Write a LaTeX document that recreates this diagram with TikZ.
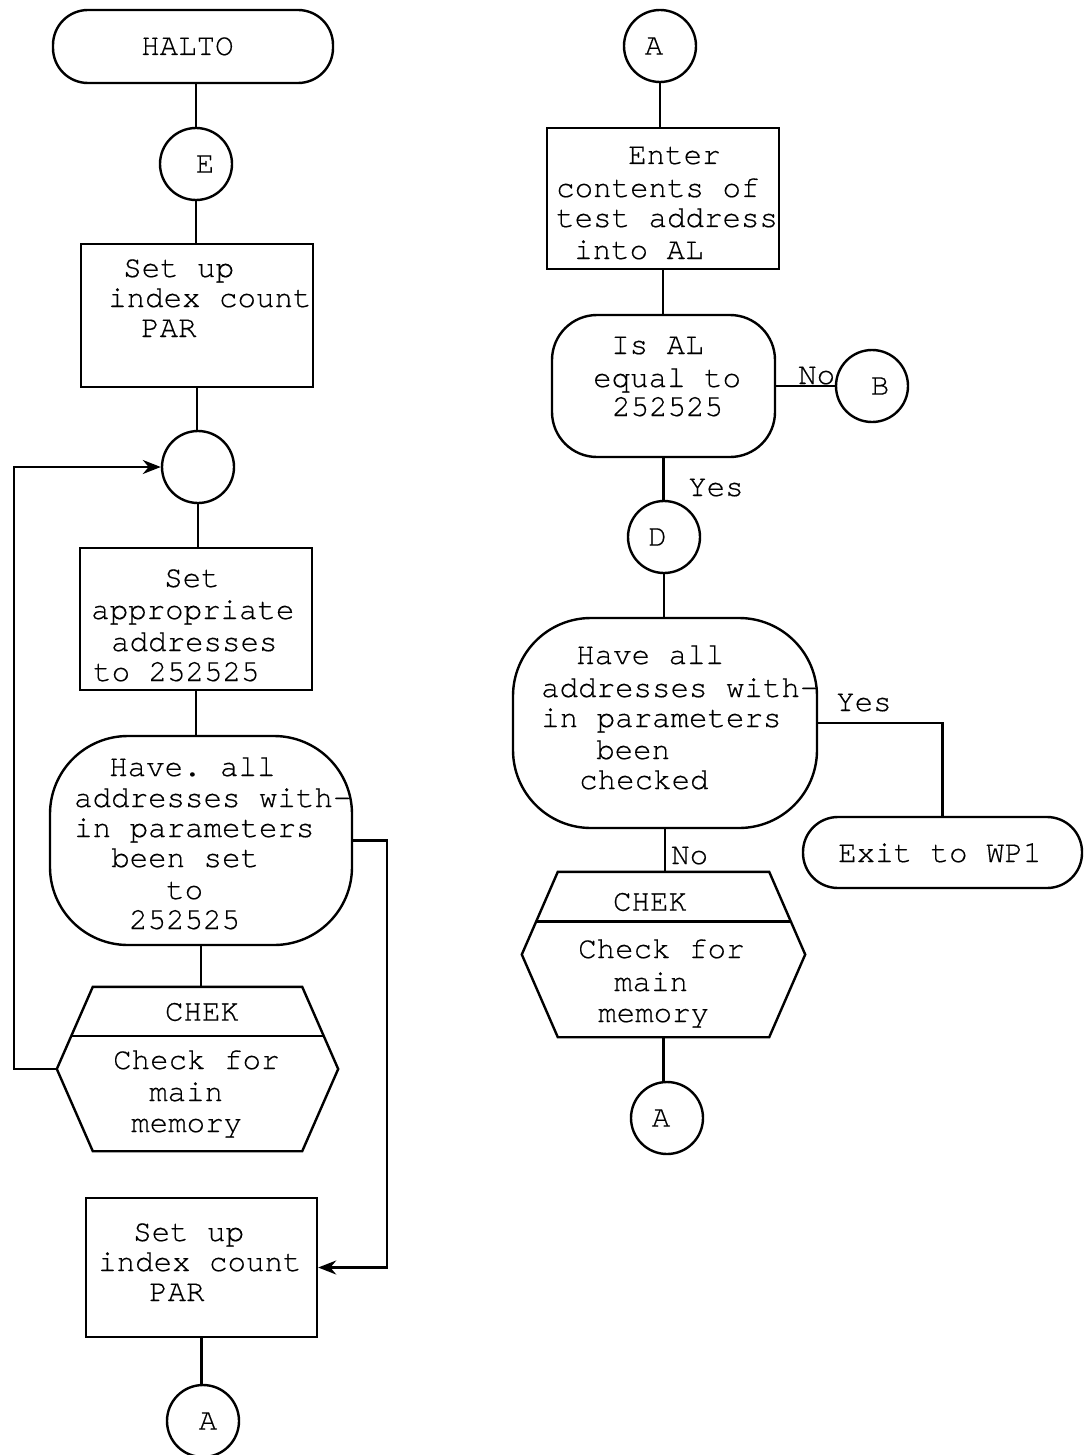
\documentclass[tikz,border=0pt]{standalone}
\usepackage{fontspec}
\setmonofont[FakeBold=0.35]{texgyrecursor-regular.otf}
\usetikzlibrary{arrows.meta,calc}
\newcommand\tx{\ttfamily\fontsize{15.4pt}{15.5pt}\selectfont}
\newcommand\chekshape[1]{%
  \draw ($(#1.north west)+(36,0)$) -- ($(#1.north east)+(-36,0)$) -- (#1.east)
    -- ($(#1.south east)+(-36,0)$) -- ($(#1.south west)+(36,0)$) -- (#1.west) -- cycle;
  \draw ($(#1.north west)!0.3!(#1.south west)+(14.4,0)$) -- ($(#1.north east)!0.3!(#1.south east)+(-14.4,0)$);}
\begin{document}
\begin{tikzpicture}[x=0.5pt,y=-0.5pt,line width=1.2pt,
  proc/.style={draw, rectangle, inner sep=0pt},
  term/.style={draw, rectangle, rounded corners=17.5pt, inner sep=0pt, font=\tx},
  dec/.style={draw, rectangle, inner sep=0pt},
  conn/.style={draw, circle, minimum size=36pt, inner sep=0pt, font=\tx},
  hexa/.style={rectangle, inner sep=0pt},
  txt/.style={font=\tx, inner sep=0pt, anchor=base west},
  arr/.style={-{Stealth[length=9pt,width=7pt]}}]
\useasboundingbox (0,0) rectangle (1086,1455);
\fill[white] (0,0) rectangle (1086,1455);

% ---------- left column ----------
\node[term, minimum width=140pt, minimum height=36.5pt] (halto) at (193,46.5) {};
\node[txt] (haltot) at (140,55) {HALTO};
\node[conn] (e) at (196,164) {\hspace*{9pt}E};
\node[proc, minimum width=116pt, minimum height=71.5pt] (b1) at (197,315.5) {};
\node[conn] (c2) at (198,467) {};
\node[proc, minimum width=116pt, minimum height=71pt] (b2) at (196,619) {};
\node[dec, rounded corners=39pt, minimum width=151pt, minimum height=104.5pt] (d1) at (201,840.5) {};
\node[hexa, minimum width=139.5pt, minimum height=81pt] (chk1) at (197.5,1069) {};
\chekshape{chk1}
\node[proc, minimum width=115.5pt, minimum height=69.5pt] (b3) at (201.5,1267.5) {};
\node[conn] (a1) at (203,1421) {\hspace*{5pt}A};

\foreach \t/\x/\y [count=\i] in {Set up/122/268, index count/107/298, PAR/140/328}
  \node[txt] (b1t\i) at (\x,\y+9) {\t};
\foreach \t/\x/\y [count=\i] in {Set/163/578, appropriate/90/610, addresses/110/642, to 252525/92/672}
  \node[txt] (b2t\i) at (\x,\y+9) {\t};
\foreach \t/\x/\y [count=\i] in {Have. all/108/767, addresses with-/73/798, in parameters/73/828, been set/110/858, to/165/890, 252525/128/920}
  \node[txt] (d1t\i) at (\x,\y+9) {\t};
\node[font=\tx, inner sep=0pt] (chk1h) at (202,1012) {CHEK};
\foreach \t/\x/\y [count=\i] in {Check for/112/1060, main/148/1092, memory/130/1123}
  \node[txt] (chk1t\i) at (\x,\y+9) {\t};
\foreach \t/\x/\y [count=\i] in {Set up/132/1232, index count/97/1262, PAR/148/1292}
  \node[txt] (b3t\i) at (\x,\y+9) {\t};

\coordinate (loopL) at (14,0);
\coordinate (loopR) at (387,0);
\draw (e.north |- halto.south) -- (e.north);
\draw (e.south) -- (e.south |- b1.north);
\draw (b1.south) -- (b1.south |- c2.north);
\draw (c2.south) -- (c2.south |- b2.north);
\draw (b2.south) -- (b2.south |- d1.north);
\draw (d1.south) -- (d1.south |- chk1.north);
\draw (b3.south) -- (b3.south |- a1.north);
\draw[arr] (chk1.west) -- (chk1.west -| loopL) |- (c2.west);
\draw[arr] (d1.east) -- (d1.east -| loopR) |- (b3.east);

% ---------- right column ----------
\node[conn] (a2) at (660,46) {\hspace*{-6pt}A};
\node[proc, minimum width=116pt, minimum height=70.5pt] (e2) at (663,198.5) {};
\node[dec, rounded corners=22.5pt, minimum width=111.5pt, minimum height=71pt] (d2) at (663.5,386) {};
\node[conn] (bc) at (872,386) {\hspace*{8pt}B};
\node[conn] (dc) at (664,537) {\hspace*{-6.5pt}D};
\node[dec, rounded corners=39pt, minimum width=152pt, minimum height=105pt] (d3) at (665,723) {};
\node[term, minimum width=139.5pt, minimum height=35.5pt] (exit) at (942.5,852.5) {};
\node[txt] (exitt) at (837,862) {Exit to WP1};
\node[hexa, minimum width=140.5pt, minimum height=81.5pt] (chk2) at (663.5,954.5) {};
\chekshape{chk2}
\node[conn] (a3) at (667,1118) {\hspace*{-6pt}A};

\foreach \t/\x/\y [count=\i] in {Enter/627/155, contents of/555/188, test address/555/218, into AL/573/250}
  \node[txt] (e2t\i) at (\x,\y+9) {\t};
\foreach \t/\x/\y [count=\i] in {Is AL/610/345, equal to/592/378, 252525/611/407}
  \node[txt] (d2t\i) at (\x,\y+9) {\t};
\foreach \t/\x/\y [count=\i] in {Have all/575/655, addresses with-/540/688, in parameters/540/718, been/595/750, checked/578/780}
  \node[txt] (d3t\i) at (\x,\y+9) {\t};
\node[font=\tx, inner sep=0pt] (chk2h) at (650,902) {CHEK};
\foreach \t/\x/\y [count=\i] in {Check for/577/949, main/613/982, memory/597/1013}
  \node[txt] (chk2t\i) at (\x,\y+9) {\t};

\draw (a2.south) -- (a2.south |- e2.north);
\draw (e2.south) -- (e2.south |- d2.north);
\draw (d2.east) -- (bc.west);
\node[txt] (lno1) at (797,384) {No};
\draw (d2.south) -- (d2.south |- dc.north);
\node[txt] (lyes1) at (687,496) {Yes};
\draw (dc.south) -- (dc.south |- d3.north);
\draw (d3.east) -| (exit.north);
\node[txt] (lyes2) at (835,711) {Yes};
\draw (d3.south) -- (d3.south |- chk2.north);
\node[txt] (lno2) at (670,864) {No};
\draw (chk2.south) -- (chk2.south |- a3.north);
\end{tikzpicture}
\end{document}
